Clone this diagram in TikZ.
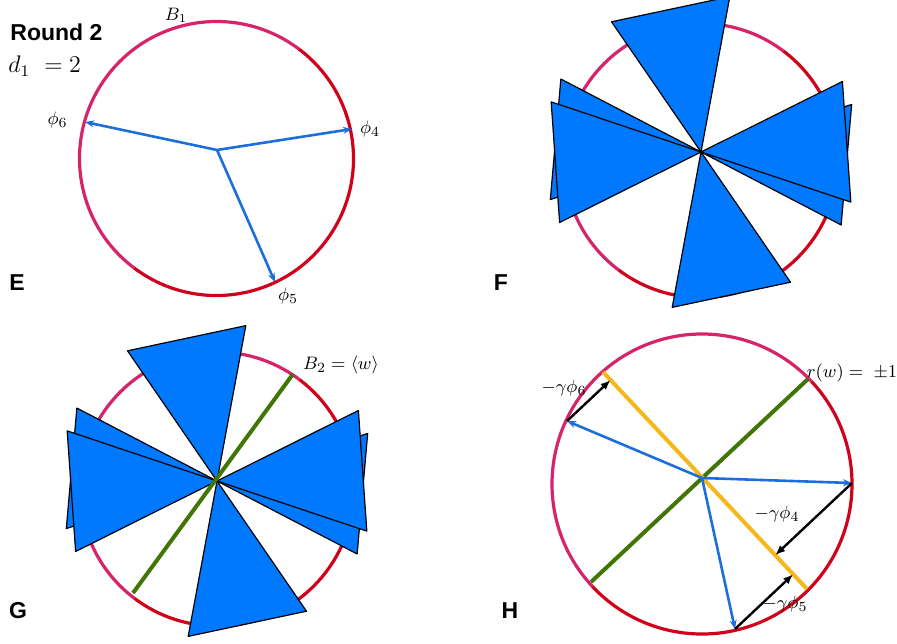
\documentclass[tikz,border=0pt]{standalone}
\usepackage{amsmath}
\usepackage{fontspec}
\newfontfamily\panelfont{Liberation Sans}
\usetikzlibrary{arrows.meta,calc}
\definecolor{RingPink}{HTML}{D6246A}
\definecolor{RingRed}{HTML}{D0021B}
\definecolor{VecBlue}{HTML}{1C6FDB}
\definecolor{ConeBlue}{HTML}{0079FF}
\definecolor{AxisGreen}{HTML}{417505}
\definecolor{AxisGold}{HTML}{F5B81C}
\begin{document}
\begin{tikzpicture}[x=0.5pt,y=0.5pt,
 ringA/.style={draw=RingPink,line width=1.6pt},
 ringB/.style={draw=RingRed,line width=1.6pt},
 vec/.style={draw=VecBlue,line width=1.3pt,-{Stealth[length=4.5pt,width=3.5pt]}},
 cone/.style={fill=ConeBlue,draw=black,line width=0.6pt,line join=round},
 wline/.style={draw=AxisGreen,line width=2pt},
 gline/.style={draw=AxisGold,line width=2pt},
 pull/.style={draw=black,line width=1.2pt,-{Latex[length=5pt,width=4pt]}},
 panel/.style={font=\panelfont\bfseries\fontsize{11.5}{13}\selectfont,inner sep=0pt},
 lbl/.style={font=\fontsize{9.5}{11}\selectfont,inner sep=0pt}]
 \useasboundingbox (0,0) rectangle (897,-643);
 \coordinate (oE) at (217,-150);
 \coordinate (cE) at (216.5,-158.5);
 \draw[ringA] (cE) ++(53:137) arc[start angle=53,end angle=233,radius=137];
 \draw[ringB] (cE) ++(233:137) arc[start angle=233,end angle=413,radius=137];
 \coordinate (p4E) at (352,-129);
 \coordinate (p5E) at (275,-282);
 \coordinate (p6E) at (85,-122);
 \draw[vec] (oE) -- (p4E);
 \draw[vec] (oE) -- (p5E);
 \draw[vec] (oE) -- (p6E);
 \node[panel,anchor=west] (round) at (10,-32) {Round 2};
 \node[anchor=west,inner sep=0pt,font=\fontsize{11.5}{13}\selectfont] (dval) at (8,-66) {$d_1\ = 2$};
 \node[lbl,font=\fontsize{9}{10}\selectfont] (b1) at (176,-15) {$B_1$};
 \node[lbl] (l4E) at (370,-129) {$\phi_4$};
 \node[lbl] (l5E) at (288,-296) {$\phi_5$};
 \node[lbl] (l6E) at (57.5,-120) {$\phi_6$};
 \node[panel] (tagE) at (17,-283) {E};
 \coordinate (oF) at (701,-152);
 \coordinate (cF) at (701,-160.5);
 \draw[ringA] (cF) ++(53:137) arc[start angle=53,end angle=233,radius=137];
 \draw[ringB] (cF) ++(233:137) arc[start angle=233,end angle=413,radius=137];
 \foreach \a in {102,282,175,355,184,4}
  \draw[cone] (oF) -- +(\a-22.5:158) -- +(\a+22.5:158) -- cycle;
 \node[panel] (tagF) at (501,-283) {F};
 \coordinate (oG) at (217,-481);
 \coordinate (cG) at (217,-489);
 \draw[ringA] (cG) ++(53:137) arc[start angle=53,end angle=233,radius=137];
 \draw[ringB] (cG) ++(233:137) arc[start angle=233,end angle=413,radius=137];
 \foreach \a in {102,282,175,355,184,4}
  \draw[cone] (oG) -- +(\a-22.5:158) -- +(\a+22.5:158) -- cycle;
 \coordinate (w1G) at (293,-374);
 \coordinate (w2G) at (133,-593);
 \draw[wline] (w1G) -- (w2G);
 \node[lbl] (b2) at (341,-365) {$B_2 = \langle w\rangle$};
 \node[panel] (tagG) at (18,-611) {G};
 \coordinate (oH) at (702,-478);
 \coordinate (cH) at (702,-484);
 \draw[ringA] (cH) ++(43:150) arc[start angle=43,end angle=223,radius=150];
 \draw[ringB] (cH) ++(223:150) arc[start angle=223,end angle=403,radius=150];
 \coordinate (w1H) at (808,-379);
 \coordinate (w2H) at (591,-582);
 \coordinate (g1H) at (603,-372);
 \coordinate (g2H) at (807,-589);
 \draw[wline] (w1H) -- (w2H);
 \draw[gline] (g1H) -- (g2H);
 \coordinate (p4H) at (852,-483);
 \coordinate (p5H) at (735,-629);
 \coordinate (p6H) at (567,-421);
 \draw[vec] (oH) -- (p4H);
 \draw[vec] (oH) -- (p5H);
 \draw[vec] (oH) -- (p6H);
 \draw[pull] (p4H) -- ($(g1H)!(p4H)!(g2H)$);
 \draw[pull] (p5H) -- ($(g1H)!(p5H)!(g2H)$);
 \draw[pull] (p6H) -- ($(g1H)!(p6H)!(g2H)$);
 \node[lbl] (rw) at (852,-373) {$r(w) = \;\pm 1$};
 \node[lbl] (l4H) at (777,-514) {$-\gamma\phi_4$};
 \node[lbl] (l5H) at (785,-604) {$-\gamma\phi_5$};
 \node[lbl] (l6H) at (564,-388) {$-\gamma\phi_6$};
 \node[panel] (tagH) at (510,-611) {H};
\end{tikzpicture}
\end{document}
